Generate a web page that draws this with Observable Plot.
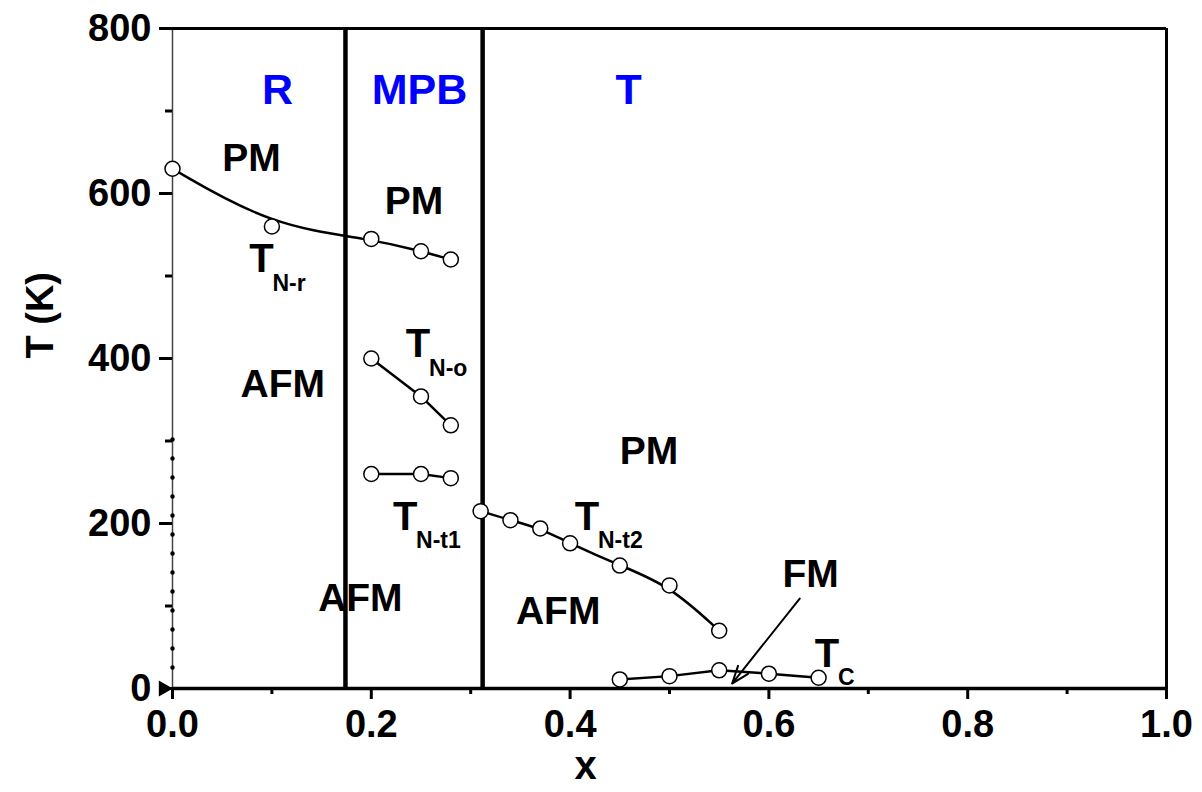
<!DOCTYPE html>
<html><head><meta charset="utf-8">
<script src="https://cdn.jsdelivr.net/npm/d3@7"></script>
<script src="https://cdn.jsdelivr.net/npm/@observablehq/plot@0.6"></script>
<style>body{margin:0;background:#fff;} svg{display:block;}</style>
</head><body><div id="chart"></div>
<script>
// Transition temperatures (K) vs composition x
const xNr = [0, 0.10, 0.20, 0.25, 0.28];
const tNr = [630, 560, 545, 530, 520];
const xNo = [0.20, 0.25, 0.28];
const tNo = [400, 354, 319];
const xNt1 = [0.20, 0.25, 0.28];
const tNt1 = [260, 260, 255];
const xNt2 = [0.31, 0.34, 0.37, 0.40, 0.45, 0.50, 0.55];
const tNt2 = [215, 204, 194, 176, 149, 125, 70];
const xC = [0.45, 0.50, 0.55, 0.60, 0.65];
const tC = [11, 15, 22, 18, 13];

// phase boundaries (vertical lines)
const boundaries = [0.174, 0.312];

// labels
const regionText = ["R", "MPB", "T"];
const regionX = [0.1056, 0.2485, 0.4588];
const regionY = [725, 725, 725];

const phaseText = ["PM", "PM", "AFM", "PM", "AFM", "AFM", "FM"];
const phaseX = [0.0795, 0.243, 0.111, 0.4794, 0.189, 0.388, 0.642];
const phaseY = [643, 590, 368, 287, 109, 93, 138];

const transSub = ["N-r", "N-o", "N-t1", "N-t2", "C"];
const transX = [0.0895, 0.247, 0.234, 0.417, 0.6585];
const transY = [520, 417, 208, 208, 42];

const xMajor = [0, 0.2, 0.4, 0.6, 0.8, 1.0];
const xMinor = [0.1, 0.3, 0.5, 0.7, 0.9];
const yMajor = [0, 200, 400, 600, 800];
const yMinor = [100, 300, 500, 700];

// FM arrow
const arrowFM = [{x1: 0.631, y1: 109, x2: 0.563, y2: 6}];
// dotted segment along left axis
const dotted = [{x: 0, y1: 25, y2: 305}];

const zip = (xs, ys) => xs.map((x, i) => ({x, y: ys[i]}));
const sNr = zip(xNr, tNr), sNo = zip(xNo, tNo), sNt1 = zip(xNt1, tNt1), sNt2 = zip(xNt2, tNt2), sC = zip(xC, tC);
const regions = regionText.map((t, i) => ({t, x: regionX[i], y: regionY[i]}));
const phases = phaseText.map((t, i) => ({t, x: phaseX[i], y: phaseY[i]}));
const trans = transSub.map((s, i) => ({s, x: transX[i], y: transY[i]}));

const font = "'Liberation Sans', Arial, Helvetica, sans-serif";
const circ = {x: "x", y: "y", r: 7.5, fill: "white", stroke: "black", strokeWidth: 1.5};

const chart = Plot.plot({
  width: 1202, height: 792,
  marginLeft: 172, marginRight: 36, marginTop: 28, marginBottom: 104,
  x: {domain: [0, 1]},
  y: {domain: [0, 800]},
  style: {fontFamily: font, fontWeight: "bold", color: "black", background: "white"},
  marks: [
    // frame
    Plot.ruleX([0], {stroke: "#444", strokeWidth: 1.5}),
    Plot.ruleX([1], {stroke: "black", strokeWidth: 3}),
    Plot.ruleY([800], {stroke: "black", strokeWidth: 3}),
    Plot.ruleY([0], {stroke: "black", strokeWidth: 3.5}),
    Plot.ruleX(dotted, {x: "x", y1: "y1", y2: "y2", stroke: "black", strokeWidth: 4.5, strokeDasharray: "0 19", strokeLinecap: "round"}),
    // axes
    Plot.axisX(xMajor, {tickSize: 11, tickPadding: 11, strokeWidth: 3, fontSize: 38, tickFormat: d3.format(".1f"), label: null}),
    Plot.axisX(xMinor, {tickSize: 6, strokeWidth: 3, tickFormat: () => "", label: null}),
    Plot.axisY(yMajor, {tickSize: 13, tickPadding: 8, strokeWidth: 3, fontSize: 38, tickFormat: d3.format("d"), label: null}),
    Plot.axisY(yMinor, {tickSize: 7, strokeWidth: 3, tickFormat: () => "", label: null}),
    Plot.dot([{x: 0, y: 0}], {x: "x", y: "y", symbol: "triangle", rotate: 90, r: 6, fill: "black", dx: -9}),
    Plot.text(["T (K)"], {frameAnchor: "left", dx: -132, rotate: -90, fontSize: 38, fontWeight: "bold"}),
    Plot.text(["x"], {frameAnchor: "bottom", lineAnchor: "middle", dx: -84, dy: 78, fontSize: 40, fontWeight: "bold"}),
    // boundaries
    Plot.ruleX(boundaries, {stroke: "black", strokeWidth: 4.5}),
    // curves
    Plot.line(sNr, {x: "x", y: "y", curve: "basis", strokeWidth: 2.5}),
    Plot.line(sNo, {x: "x", y: "y", strokeWidth: 2.5}),
    Plot.line(sNt1, {x: "x", y: "y", strokeWidth: 2.5}),
    Plot.line(sNt2, {x: "x", y: "y", curve: "basis", strokeWidth: 2.5}),
    Plot.line(sC, {x: "x", y: "y", strokeWidth: 2.5}),
    Plot.arrow(arrowFM, {x1: "x1", y1: "y1", x2: "x2", y2: "y2", strokeWidth: 2, headLength: 14, headAngle: 40, bend: 0}),
    // points
    Plot.dot(sNr, circ), Plot.dot(sNo, circ), Plot.dot(sNt1, circ), Plot.dot(sNt2, circ), Plot.dot(sC, circ),
    // labels
    Plot.text(regions, {x: "x", y: "y", text: "t", fill: "#0000ff", fontSize: 43, fontWeight: "bold"}),
    Plot.text(phases, {x: "x", y: "y", text: "t", fill: "black", fontSize: 39, fontWeight: "bold"}),
    Plot.text(trans, {x: "x", y: "y", text: () => "T", fill: "black", fontSize: 40, fontWeight: "bold"}),
    Plot.text(trans, {x: "x", y: "y", text: "s", fill: "black", fontSize: 23, fontWeight: "bold", textAnchor: "start", dx: 11, dy: 24})
  ]
});
document.getElementById("chart").append(chart);
</script>
</body></html>
